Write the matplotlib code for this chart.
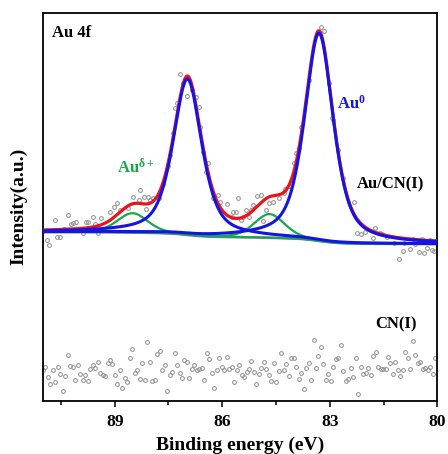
import numpy as np
import matplotlib
matplotlib.use("Agg")
import matplotlib.pyplot as plt
from matplotlib.ticker import MultipleLocator

plt.rcParams['font.family'] = ['Liberation Serif', 'DejaVu Serif']
plt.rcParams['font.weight'] = 'bold'
plt.rcParams['mathtext.fontset'] = 'custom'
plt.rcParams['mathtext.rm'] = 'Liberation Serif:bold'
plt.rcParams['mathtext.it'] = 'Liberation Serif:italic:bold'
plt.rcParams['mathtext.bf'] = 'Liberation Serif:bold'

# ---- measured Au 4f spectrum of Au/CN(I) (binding energy, counts) ----
au_energy = [91.00, 90.90, 90.82, 90.67, 90.60, 90.53, 90.42, 90.30, 90.22, 90.15,
             90.09, 89.97, 89.89, 89.81, 89.75, 89.60, 89.55, 89.46, 89.39, 89.13,
             89.02, 88.93, 88.85, 88.62, 88.49, 88.33, 88.29, 88.18, 88.13, 88.07,
             88.01, 87.92, 87.77, 87.64, 87.50, 87.46, 87.38, 87.32, 87.25, 87.18,
             87.09, 86.99, 86.85, 86.73, 86.66, 86.62, 86.54, 86.45, 86.39, 86.25,
             86.11, 86.06, 85.88, 85.73, 85.69, 85.61, 85.55, 85.48, 85.41, 85.33,
             85.24, 85.20, 85.13, 85.03, 84.91, 84.85, 84.78, 84.69, 84.59, 84.43,
             84.29, 84.24, 84.15, 84.01, 83.93, 83.87, 83.79, 83.57, 83.25, 83.15,
             83.01, 82.95, 82.90, 82.76, 82.62, 82.31, 82.24, 82.12, 82.01, 81.78,
             81.73, 81.61, 81.54, 81.40, 81.22, 81.06, 80.97, 80.92, 80.77, 80.68,
             80.61, 80.50, 80.43, 80.36, 80.29, 80.20, 80.15, 80.08, 80.01]
au_counts = [510, 482, 467, 544, 493, 493, 515, 559, 531, 534,
             538, 515, 504, 538, 538, 551, 531, 504, 548, 566,
             581, 593, 573, 578, 611, 603, 633, 611, 575, 613,
             603, 608, 610, 650, 706, 738, 803, 878, 895, 981,
             953, 915, 933, 911, 881, 823, 748, 688, 713, 609,
             618, 598, 592, 553, 568, 568, 608, 543, 553, 573,
             553, 573, 589, 615, 619, 540, 572, 595, 598, 610,
             623, 636, 646, 715, 743, 758, 823, 963, 1123, 1111,
             953, 850, 843, 752, 668, 598, 503, 500, 508, 488,
             518, 503, 501, 493, 473, 425, 451, 473, 456, 485,
             471, 446, 486, 443, 460, 483, 453, 451, 483]

# ---- bare CN(I) support, same window (uniform scan grid) ----
cn_start, cn_stop = 91.0, 80.06
cn_counts = [93, 103, 73, 52, 93, 56, 103, 81, 30, 74, 139, 106, 102, 64, 107, 81, 64, 77, 60, 96,
             107, 100, 118, 85, 78, 74, 114, 122, 110, 77, 52, 93, 38, 68, 56, 128, 157, 85, 93, 67,
             114, 64, 176, 118, 60, 64, 140, 151, 93, 107, 31, 77, 86, 143, 107, 85, 68, 122, 118, 68,
             96, 107, 93, 96, 100, 64, 143, 125, 85, 39, 93, 129, 103, 93, 132, 96, 103, 56, 93, 107, 78,
             71, 88, 95, 121, 88, 52, 82, 100, 118, 96, 78, 60, 114, 56, 89, 143, 93, 111, 74, 128,
             128, 103, 67, 85, 35, 100, 114, 64, 183, 100, 136, 161, 110, 64, 82, 60, 103, 125,
             128, 168, 89, 60, 67, 100, 71, 129, 20, 103, 82, 85, 100, 78, 136, 147, 103, 96, 96, 96,
             132, 114, 82, 118, 93, 74, 93, 147, 128, 96, 179, 139, 114, 118, 96, 100, 93, 103, 82, 129]

# ---- fitted components (pseudo-Voigt) ----
au0_centers = [83.30, 86.97]     # Au0 4f7/2, 4f5/2
au0_heights = [623, 468]
au0_fwhm = [0.95, 0.95]
au0_eta = 0.6
aud_centers = [84.68, 88.50]     # Au(delta+) 4f7/2, 4f5/2
aud_heights = [71, 58]
aud_fwhm = [1.0, 1.0]
aud_eta = 0.3
bg_low, bg_high = 471, 507       # Shirley end levels

x_major = [89, 86, 83, 80]


def pseudo_voigt(e, c, h, w, eta):
    d = (e - c) / w
    gauss = np.exp(-4 * np.log(2) * d ** 2)
    lorentz = 1.0 / (1.0 + 4 * d ** 2)
    return h * (eta * lorentz + (1 - eta) * gauss)


e = np.linspace(80.0, 91.0, 1101)
au0 = [pseudo_voigt(e, c, h, w, au0_eta) for c, h, w in zip(au0_centers, au0_heights, au0_fwhm)]
aud = [pseudo_voigt(e, c, h, w, aud_eta) for c, h, w in zip(aud_centers, aud_heights, aud_fwhm)]
peaks = sum(au0) + sum(aud)
cum = np.concatenate([[0], np.cumsum(0.5 * (peaks[1:] + peaks[:-1]) * np.diff(e))])
bg = bg_low + (bg_high - bg_low) * cum / cum[-1]
envelope = bg + peaks

fig = plt.figure(figsize=(4.48, 4.54), dpi=100)
ax = fig.add_axes([43 / 448, 53 / 454, 394.3 / 448, 388.3 / 454])

pt_style = dict(ls='none', marker='o', ms=2.7, mfc='none', mec='#8c8c8c', mew=0.7, zorder=1)
ax.plot(au_energy, au_counts, **pt_style)
cn_energy = np.linspace(cn_start, cn_stop, len(cn_counts))
ax.plot(cn_energy, cn_counts, **pt_style)

ax.plot(e, bg, color='#8c7aa8', lw=1.9, zorder=2)
ax.plot(e, envelope, color='#e8141c', lw=2.3, zorder=3)
for comp in aud:
    ax.plot(e, bg + comp, color='#17a84c', lw=1.6, zorder=4)
for comp in au0:
    ax.plot(e, bg + comp, color='#1414e6', lw=2.2, zorder=5)

ax.set_xlim(91.0, 80.0)
ax.set_ylim(0, 1165)
ax.set_xticks(x_major)
ax.xaxis.set_minor_locator(MultipleLocator(1.5, offset=0.5))
ax.tick_params(axis='x', which='major', direction='out', length=4.5, width=1.1,
               labelsize=12.5, pad=4.5)
ax.tick_params(axis='x', which='minor', direction='out', length=3, width=1.1)
ax.tick_params(axis='y', left=False, labelleft=False)
for sp in ax.spines.values():
    sp.set_linewidth(1.3)

ax.set_xlabel('Binding energy (eV)', fontsize=14, fontweight='bold')
ax.xaxis.label.set_va('baseline')
ax.xaxis.set_label_coords(0.5, -0.1254)
ax.set_ylabel('Intensity(a.u.)', fontsize=14, fontweight='bold')
ax.yaxis.label.set_va('baseline')
ax.yaxis.set_label_coords(-0.0507, 0.5)

ax.text(0.0228, 0.9366, 'Au 4f', transform=ax.transAxes, fontsize=12, fontweight='bold',
        va='baseline', ha='left')
ax.text(0.746, 0.7538, r'Au$^{\mathrm{0}}$', transform=ax.transAxes, fontsize=12,
        color='#1414e6', va='baseline', ha='left')
ax.text(0.187, 0.5864, r'Au$^{\mathrm{δ+}}$', transform=ax.transAxes, fontsize=12,
        color='#17a84c', va='baseline', ha='left')
ax.text(0.7963, 0.5478, 'Au/CN(I)', transform=ax.transAxes, fontsize=12, fontweight='bold',
        va='baseline', ha='left')
ax.text(0.8438, 0.188, 'CN(I)', transform=ax.transAxes, fontsize=12, fontweight='bold',
        va='baseline', ha='left')

fig.savefig('out.png', dpi=100)
